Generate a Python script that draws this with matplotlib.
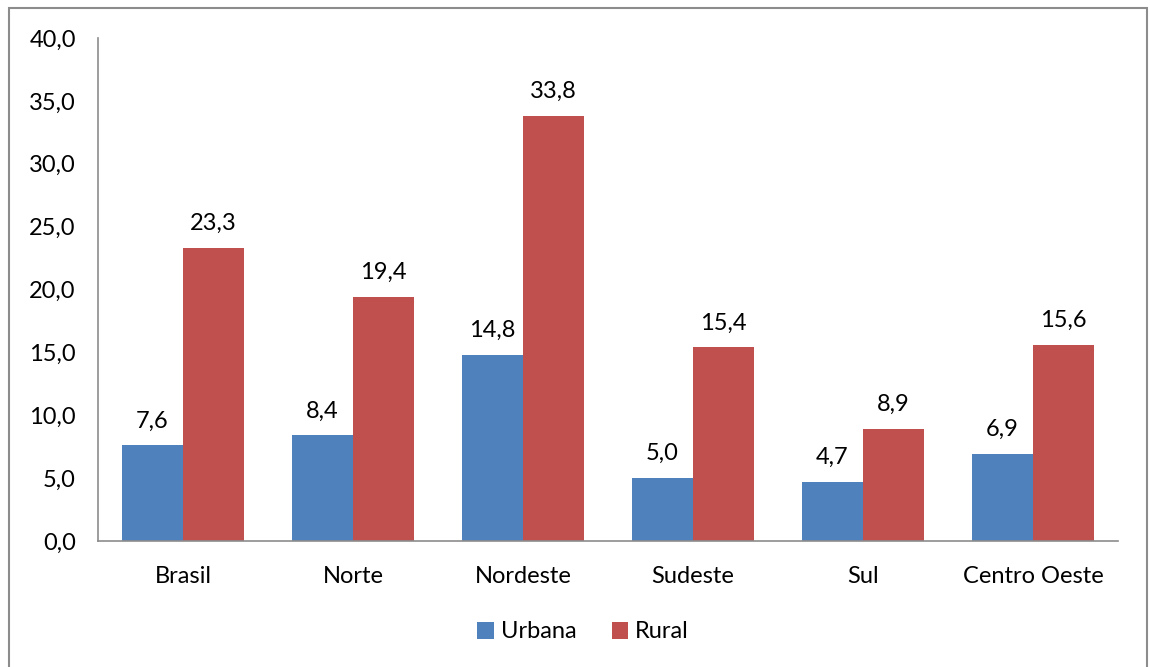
import matplotlib
matplotlib.use("Agg")
import matplotlib.pyplot as plt
import numpy as np
from matplotlib.patches import Rectangle

categories = ["Brasil", "Norte", "Nordeste", "Sudeste", "Sul", "Centro Oeste"]
urbana = [7.6, 8.4, 14.8, 5.0, 4.7, 6.9]
rural = [23.3, 19.4, 33.8, 15.4, 8.9, 15.6]
yticks = [0, 5, 10, 15, 20, 25, 30, 35, 40]

plt.rcParams['font.family'] = ['Lato', 'DejaVu Sans']
FS = 17

fig = plt.figure(figsize=(11.5, 6.67), dpi=100)
ax = fig.add_axes([98/1150, 1-541/667, (1118-98)/1150, (541-38)/667])

x = np.arange(len(categories))
w = 0.36
b1 = ax.bar(x - w/2, urbana, w, color="#4F81BD", label="Urbana")
b2 = ax.bar(x + w/2, rural, w, color="#C0504D", label="Rural")

def fmt(v):
    return f"{v:.1f}".replace(".", ",")

for bars, vals in ((b1, urbana), (b2, rural)):
    for r, v in zip(bars, vals):
        ax.annotate(fmt(v), (r.get_x() + r.get_width()/2, v), xytext=(0, 10),
                    textcoords="offset points", ha="center", va="bottom", fontsize=FS)

ax.set_xlim(-0.5, len(categories) - 0.5)
ax.set_ylim(0, 40)
ax.set_yticks(yticks)
ax.set_yticklabels([fmt(t) for t in yticks], fontsize=FS)
ax.set_xticks(x)
ax.set_xticklabels(categories, fontsize=FS)
ax.tick_params(axis='x', length=0, pad=18)
ax.tick_params(axis='y', length=0, pad=16)
for s in ("top", "right"):
    ax.spines[s].set_visible(False)
for s in ("left", "bottom"):
    ax.spines[s].set_color("#8c8c8c")
    ax.spines[s].set_linewidth(1.2)

ax.legend(loc="center", bbox_to_anchor=(583/1150, 1-632/667), bbox_transform=fig.transFigure,
          ncol=2, frameon=False, fontsize=FS, handlelength=0.7, handleheight=0.7,
          handletextpad=0.3, columnspacing=1.5)

fig.patches.append(Rectangle((9/1150, -0.01), (1147-9)/1150, 1-8/667 + 0.01,
                             transform=fig.transFigure, fill=False, edgecolor="#8c8c8c",
                             linewidth=1.5))

fig.savefig("out.png", dpi=100)
